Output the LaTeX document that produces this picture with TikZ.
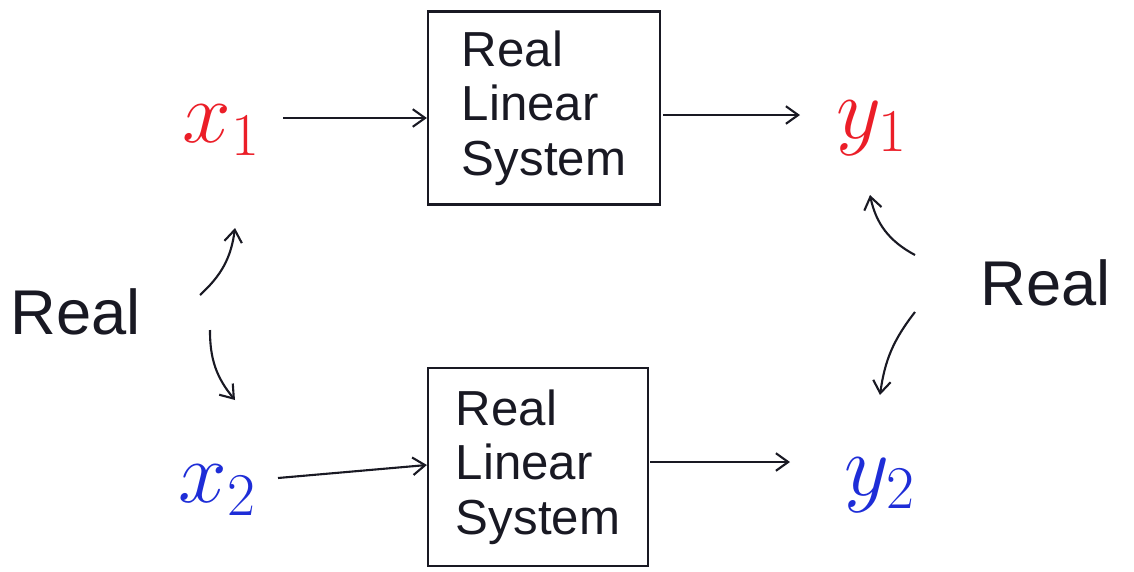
\documentclass[tikz,border=0pt]{standalone}
\usepackage{fontspec}
\setsansfont{Liberation Sans}
\usetikzlibrary{arrows.meta}
\definecolor{penred}{RGB}{235,30,40}
\definecolor{penblue}{RGB}{30,45,215}
\definecolor{ink}{RGB}{25,25,35}
\newcommand{\bigsig}[1]{\scalebox{2}{$#1$}}
\begin{document}
\begin{tikzpicture}[x=0.02cm,y=-0.02cm,
  sysbox/.style={draw=ink,line width=1.3pt,align=left,font=\sffamily\fontsize{28}{31}\selectfont,text=ink,inner sep=0pt},
  arr/.style={draw=ink,line width=1.2pt,-{Straight Barb[length=7pt,width=10pt]}},
  sig/.style={font=\fontsize{24}{26}\selectfont,inner sep=0pt},
  lab/.style={font=\sffamily\fontsize{36}{40}\selectfont,text=ink,inner sep=0pt}]
\useasboundingbox (0,0) rectangle (1134,572);
\node[sysbox,minimum width=4.64cm,minimum height=3.86cm] (box1) at (544,108) {Real\\Linear\\System};
\node[sysbox,minimum width=4.4cm,minimum height=3.96cm] (box2) at (538,467) {Real\\Linear\\System};
\node[sig,text=penred] (x1) at (222,130) {\bigsig{x_{1}}};
\node[sig,text=penred] (y1) at (872,128) {\bigsig{y_{1}}};
\node[sig,text=penblue] (x2) at (218,490) {\bigsig{x_{2}}};
\node[sig,text=penblue] (y2) at (880,485) {\bigsig{y_{2}}};
\node[lab] (realL) at (76,312) {Real};
\node[lab] (realR) at (1046,283) {Real};
\coordinate (a1s) at (283,118); \coordinate (a1e) at (425,118);
\coordinate (a2s) at (663,115); \coordinate (a2e) at (800,115);
\coordinate (a3s) at (278,478); \coordinate (a3e) at (418,465);
\coordinate (a4s) at (650,462); \coordinate (a4e) at (790,462);
\draw[arr] (a1s) -- (box1.west |- a1e);
\draw[arr] (a2s) -- (a2e);
\draw[arr] (a3s) -- (box2.west |- a3e);
\draw[arr] (a4s) -- (a4e);
\coordinate (l1s) at (200,295); \coordinate (l1e) at (235,228);
\coordinate (l2s) at (210,330); \coordinate (l2e) at (235,400);
\coordinate (r1s) at (915,255); \coordinate (r1e) at (870,195);
\coordinate (r2s) at (915,312); \coordinate (r2e) at (880,395);
\draw[arr] (l1s) to[bend right=20] (l1e);
\draw[arr] (l2s) to[bend right=20] (l2e);
\draw[arr] (r1s) to[bend left=25] (r1e);
\draw[arr] (r2s) to[bend right=15] (r2e);
\end{tikzpicture}
\end{document}
